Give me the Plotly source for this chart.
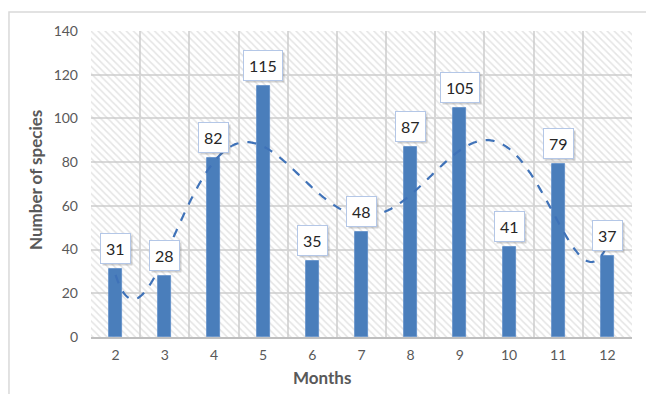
import numpy as np
import plotly.graph_objects as go

# Monthly counts of species
months = [2, 3, 4, 5, 6, 7, 8, 9, 10, 11, 12]
species = [31, 28, 82, 115, 35, 48, 87, 105, 41, 79, 37]
y_ticks = [0, 20, 40, 60, 80, 100, 120, 140]

X_RANGE = [1.5, 12.5]
Y_RANGE = [0, 140]

BAR_BLUE = "#4a7ebb"
TEXT_GREY = "#595959"
GRID = "#d9d9d9"
FONT = "Lato, Liberation Sans, sans-serif"

# 6th order polynomial trendline through the monthly counts
coef = np.polyfit(months, species, 6)
xs = np.linspace(months[0], months[-1], 300)
trend = np.polyval(coef, xs)

fig = go.Figure()

# hatched plot-area background (a single bar spanning the whole area, drawn first)
fig.add_trace(go.Bar(
    x=[(X_RANGE[0] + X_RANGE[1]) / 2], y=[Y_RANGE[1]], base=Y_RANGE[0],
    width=X_RANGE[1] - X_RANGE[0],
    marker=dict(color="rgba(0,0,0,0)", line=dict(width=0),
                pattern=dict(shape="\\", fgcolor="#cacaca",
                             bgcolor="rgba(0,0,0,0)", size=5, solidity=0.3)),
    hoverinfo="skip", showlegend=False,
))

fig.add_trace(go.Bar(
    x=months, y=species, width=0.265,
    marker=dict(color=BAR_BLUE, line=dict(color="#5b8bc6", width=0.8)),
    showlegend=False,
))

fig.add_trace(go.Scatter(
    x=xs, y=trend, mode="lines",
    line=dict(color="#3f72b8", width=2.2, dash="dash", shape="spline"),
    showlegend=False, hoverinfo="skip",
))

# value labels with a soft drop shadow (shadow box sized with figure spaces)
for m, v in zip(months, species):
    fig.add_annotation(
        x=m, y=v, xref="x", yref="y", yanchor="bottom", yshift=3, xshift=2,
        text="\u2007" * len(str(v)),
        showarrow=False, font=dict(family=FONT, size=16),
        bgcolor="rgba(110,110,110,0.3)", bordercolor="rgba(0,0,0,0)",
        borderwidth=1, borderpad=5,
    )
    fig.add_annotation(
        x=m, y=v, xref="x", yref="y", yanchor="bottom", yshift=5,
        text=str(v), showarrow=False,
        font=dict(family=FONT, size=16, color="#262626"),
        bgcolor="white", bordercolor="#b4c7e7", borderwidth=1, borderpad=5,
    )

# axis titles
fig.add_annotation(
    text="<b>Months</b>", xref="paper", yref="paper", x=0.427, y=-0.131,
    xanchor="center", yanchor="middle",
    showarrow=False, font=dict(family=FONT, size=17, color=TEXT_GREY),
)
fig.add_annotation(
    text="<b>Number of species</b>", xref="paper", yref="paper",
    x=-0.1035, y=0.513, xanchor="center", yanchor="middle", textangle=-90,
    showarrow=False, font=dict(family=FONT, size=17, color=TEXT_GREY),
)

# outer chart frame
fig.add_shape(type="rect", xref="paper", yref="paper",
              x0=-0.1516, x1=1.2, y0=-0.3, y1=1.062,
              line=dict(color="#d9d9d9", width=1.5), fillcolor="rgba(0,0,0,0)",
              layer="below")

fig.update_layout(
    width=646, height=394,
    margin=dict(l=91, r=14, t=31, b=57),
    paper_bgcolor="white", plot_bgcolor="white",
    font=dict(family=FONT, size=14, color=TEXT_GREY),
    bargap=0, barmode="overlay",
    xaxis=dict(
        range=X_RANGE, tickvals=months, ticktext=[str(m) for m in months],
        showgrid=False, zeroline=False,
        minor=dict(tick0=1.5, dtick=1, showgrid=True, gridcolor=GRID, gridwidth=1.5),
        showline=True, linecolor="#bfbfbf", linewidth=1.5, mirror=False,
        ticks="", ticklabelstandoff=4,
        tickfont=dict(family=FONT, size=14, color=TEXT_GREY),
    ),
    yaxis=dict(
        range=Y_RANGE, tickvals=y_ticks, showgrid=True, gridcolor=GRID,
        gridwidth=1.5, zeroline=False, showline=False, ticks="",
        ticklabelstandoff=12,
        tickfont=dict(family=FONT, size=14, color=TEXT_GREY),
    ),
)

fig.write_html("out.html")
